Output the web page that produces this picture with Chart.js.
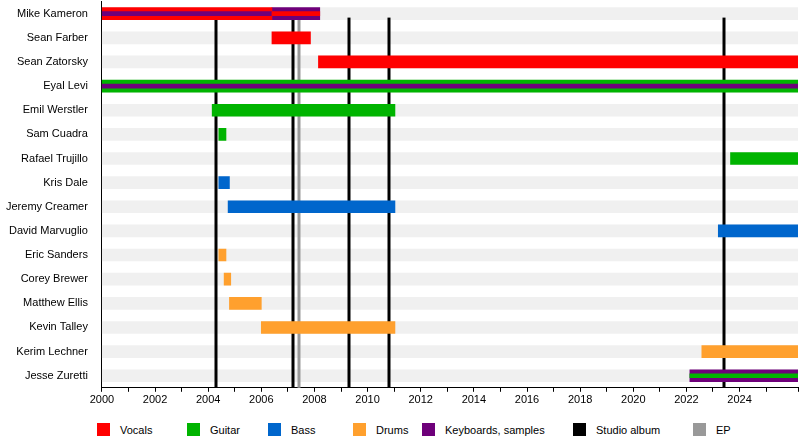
<!DOCTYPE html>
<html><head><meta charset="utf-8">
<script src="https://cdn.jsdelivr.net/npm/chart.js@4"></script>
<style>
body{margin:0;background:#fff;font-family:"Liberation Sans",Arial,sans-serif;overflow:hidden}
#wrap{position:relative;width:800px;height:420px;margin-top:-11px}
.lg{position:absolute;top:423px;font-size:11px;display:flex;align-items:center}
.lg span{display:inline-block;width:13px;height:13px;margin-right:10px}
</style></head><body>
<div id="wrap"><canvas id="c" width="800" height="420"></canvas></div>
<div id="legend"></div>
<script>
const members=["Mike Kameron","Sean Farber","Sean Zatorsky","Eyal Levi","Emil Werstler","Sam Cuadra","Rafael Trujillo","Kris Dale","Jeremy Creamer","David Marvuglio","Eric Sanders","Corey Brewer","Matthew Ellis","Kevin Talley","Kerim Lechner","Jesse Zuretti"];
const END=2026.2;
// main bars: [member,start,end]
const vocals=[["Mike Kameron",2000,2006.4],["Sean Farber",2006.4,2007.85],["Sean Zatorsky",2008.15,END]];
const guitar=[["Eyal Levi",2000,END],["Emil Werstler",2004.15,2011.03],["Sam Cuadra",2004.4,2004.67],["Rafael Trujillo",2023.66,END]];
const bass=[["Kris Dale",2004.4,2004.8],["Jeremy Creamer",2004.75,2011.03],["David Marvuglio",2023.2,END]];
const drums=[["Eric Sanders",2004.4,2004.67],["Corey Brewer",2004.6,2004.85],["Matthew Ellis",2004.8,2006],["Kevin Talley",2006,2011.03],["Kerim Lechner",2022.58,END]];
const keyboards=[["Mike Kameron",2006.4,2008.2],["Jesse Zuretti",2022.13,END]];
// secondary role stripes
const vocalsStripe=[["Mike Kameron",2006.4,2008.2]];
const guitarStripe=[["Jesse Zuretti",2022.13,END]];
const keyboardsStripe=[["Mike Kameron",2000,2006.4],["Eyal Levi",2000,END]];
const studioAlbums=[2004.3,2007.18,2009.3,2010.8,2023.4];
const eps=[2007.4];
const legendItems=[["Vocals","#ff0000",97],["Guitar","#00b400",187],["Bass","#0066cc",268],["Drums","#ffa02e",353],["Keyboards, samples","#6e007a",422],["Studio album","#000000",573],["EP","#999999",693]];
const toData=a=>members.map(m=>{const r=a.find(q=>q[0]===m);return r?[r[1],r[2]]:null;});
const C={v:"#ff0000",g:"#00b400",b:"#0066cc",d:"#ffa02e",k:"#6e007a"};
const ds=(arr,col,th,ord)=>({data:toData(arr),backgroundColor:col,barThickness:th,grouped:false,borderWidth:0,order:ord});
const lines={id:'lines',afterDatasetDraw(ch,args){if(args.index!==0)return;const x=ch.scales.x,a=ch.chartArea,ctx=ch.ctx;ctx.save();
 const draw=(arr,col)=>arr.forEach(v=>{const p=Math.round(x.getPixelForValue(v));ctx.fillStyle=col;ctx.fillRect(p-1.5,a.top+16,3,a.bottom-a.top-16);});
 draw(eps,'#999999');draw(studioAlbums,'#000');ctx.restore();}};
new Chart(document.getElementById('c'),{type:'bar',
data:{labels:members,datasets:[
 ds(members.map(m=>[m,2000,END]),'#f0f0f0',12,3),
 ds(vocals,C.v,12,2),ds(guitar,C.g,12,2),ds(bass,C.b,12,2),ds(drums,C.d,12,2),ds(keyboards,C.k,12,2),
 ds(vocalsStripe,C.v,4,1),ds(guitarStripe,C.g,4,1),ds(keyboardsStripe,C.k,4,1)]},
options:{indexAxis:'y',responsive:false,animation:false,
 layout:{padding:{top:0,right:0,left:0,bottom:0}},
 plugins:{legend:{display:false},tooltip:{enabled:false}},
 scales:{x:{type:'linear',min:2000,max:END,
   ticks:{stepSize:1,autoSkip:false,maxRotation:0,padding:2,color:'#000',font:{size:11,family:'Liberation Sans'},callback:v=>(v%2===0&&v<2026)?String(v):''},
   grid:{drawOnChartArea:false,drawTicks:true,tickLength:4,color:'#000'},border:{color:'#000'}},
  y:{ticks:{color:'#000',font:{size:11,family:'Liberation Sans'},padding:6},
   grid:{display:false},border:{color:'#000'}}}},
plugins:[lines]});
const L=document.getElementById('legend');
legendItems.forEach(([t,c,x])=>{const d=document.createElement('div');d.className='lg';d.style.left=x+'px';d.innerHTML='<span style="background:'+c+'"></span>'+t;L.appendChild(d);});
</script></body></html>
